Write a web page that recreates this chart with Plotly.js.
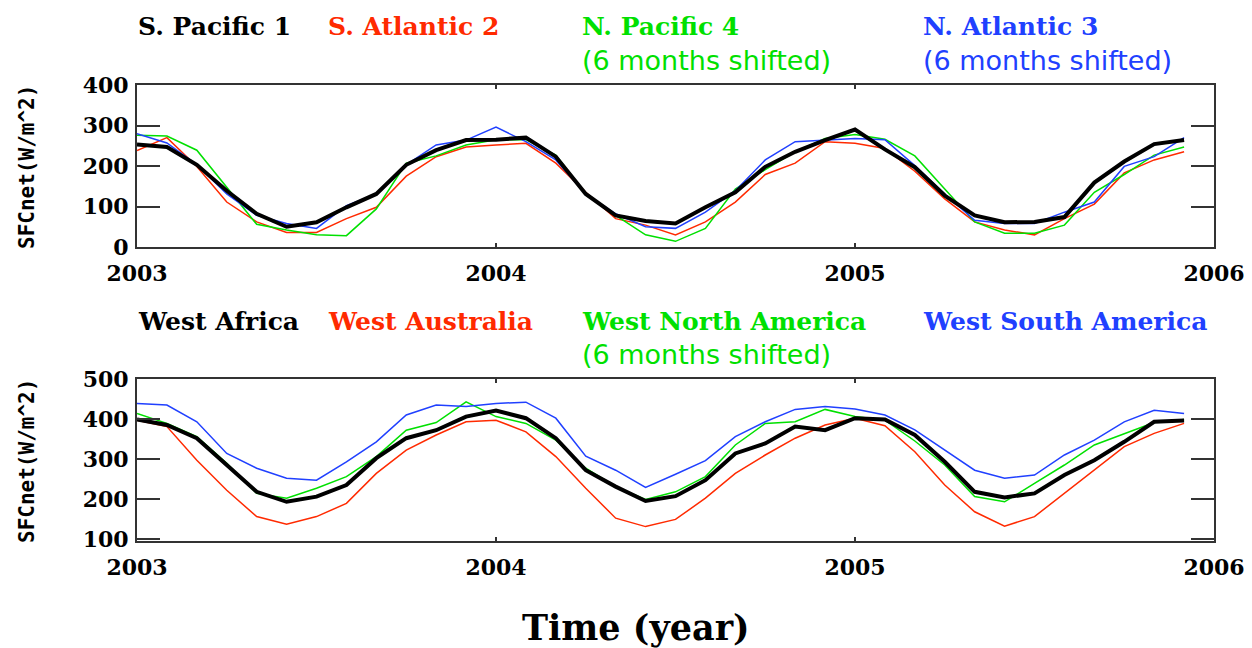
<!DOCTYPE html>
<html>
<head>
<meta charset="utf-8">
<script src="https://cdn.plot.ly/plotly-3.0.1.min.js"></script>
<style>html,body{margin:0;padding:0;background:#fff;}#chart{width:1252px;height:648px;}</style>
</head>
<body>
<div id="chart"></div>
<script>
// ---- data (monthly, Jan 2003 .. Dec 2005) ----
const startYear = 2003;
const nMonths = 36;

// Top panel: ocean regions (W/m^2)
const sPacific1 = [253, 247, 203, 139, 82, 50, 61, 98, 131, 203, 239, 264,
                   265, 270, 223, 131, 78, 64, 58, 98, 135, 198, 235, 264,
                   290, 241, 197, 127, 78, 61, 62, 74, 159, 211, 254, 264];
const sAtlantic2 = [238, 270, 199, 111, 62, 36, 36, 70, 98, 175, 223, 247,
                    252, 256, 207, 135, 70, 54, 30, 62, 111, 179, 207, 260,
                    256, 243, 187, 119, 62, 42, 30, 70, 106, 183, 215, 235];
const nPacific4 = [276, 274, 239, 147, 56, 42, 30, 28, 94, 207, 225, 252,
                   265, 265, 227, 131, 78, 30, 14, 46, 143, 191, 235, 268,
                   278, 266, 225, 143, 62, 34, 34, 54, 135, 179, 227, 247];
const nAtlantic3 = [280, 257, 203, 131, 78, 58, 46, 102, 131, 203, 252, 264,
                    296, 260, 215, 131, 82, 50, 46, 86, 139, 215, 260, 264,
                    268, 265, 201, 131, 66, 58, 58, 86, 111, 199, 223, 270];

// Bottom panel: land regions (W/m^2)
const westAfrica = [399, 385, 352, 285, 218, 193, 206, 235, 302, 352, 372, 406,
                    421, 402, 352, 272, 231, 195, 207, 247, 314, 339, 381, 372,
                    402, 399, 360, 293, 218, 204, 214, 260, 297, 343, 393, 396];
const westAustralia = [397, 381, 297, 222, 156, 137, 156, 189, 264, 322, 360, 393,
                       397, 368, 306, 227, 152, 131, 149, 202, 264, 310, 352, 385,
                       402, 383, 318, 235, 168, 132, 156, 214, 272, 331, 364, 389];
const westNorthAmerica = [414, 389, 356, 289, 214, 202, 227, 256, 306, 372, 391, 443,
                          406, 389, 347, 277, 231, 199, 218, 256, 335, 389, 393, 424,
                          406, 397, 345, 285, 206, 193, 239, 285, 335, 364, 391, 399];
const westSouthAmerica = [439, 435, 393, 314, 277, 252, 247, 293, 343, 410, 435, 431,
                          439, 442, 402, 307, 272, 229, 262, 296, 356, 393, 424, 431,
                          425, 410, 373, 322, 272, 252, 260, 310, 347, 393, 422, 414];

const topNames = ["S. Pacific 1", "S. Atlantic 2", "N. Pacific 4", "N. Atlantic 3"];
const botNames = ["West Africa", "West Australia", "West North America", "West South America"];
const shiftNote = "(6 months shifted)";
const yearTicks = [2003, 2004, 2005, 2006];
const topYTicks = [0, 100, 200, 300, 400];
const botYTicks = [100, 200, 300, 400, 500];

// ---- styling ----
const W = 1252, H = 648;
const colors = ["#000000", "#ff2a00", "#00e000", "#2040ff"];
const widths = [4, 1.5, 1.5, 1.5];

const time = [];
for (let i = 0; i < nMonths; i++) time.push(startYear + i / 12);

const topSeries = [sPacific1, sAtlantic2, nPacific4, nAtlantic3];
const botSeries = [westAfrica, westAustralia, westNorthAmerica, westSouthAmerica];

const traces = [];
[1, 2, 3, 0].forEach(k => {
  traces.push({x: time, y: topSeries[k], type: 'scatter', mode: 'lines', name: topNames[k],
    line: {color: colors[k], width: widths[k]}, xaxis: 'x', yaxis: 'y', hoverinfo: 'skip'});
});
[1, 2, 3, 0].forEach(k => {
  traces.push({x: time, y: botSeries[k], type: 'scatter', mode: 'lines', name: botNames[k],
    line: {color: colors[k], width: widths[k]}, xaxis: 'x2', yaxis: 'y2', hoverinfo: 'skip'});
});

const tickFont = {family: 'DejaVu Serif', size: 22, color: '#000', weight: 'bold'};
const xDom = [137 / W, 1214 / W];
function xAx(anchor) {
  return {domain: xDom, anchor: anchor, range: [2003, 2006], tickvals: yearTicks,
    ticktext: yearTicks.map(String), ticks: 'inside', ticklen: 4, tickwidth: 2, tickcolor: '#333',
    mirror: 'ticks', showline: true, linecolor: '#333', linewidth: 2, showgrid: false,
    zeroline: false, tickfont: tickFont, ticklabelstandoff: 6};
}
function yAx(anchor, dom, range, vals) {
  return {domain: dom, anchor: anchor, range: range, tickvals: vals, ticktext: vals.map(String),
    ticks: 'inside', ticklen: 23, tickwidth: 2, tickcolor: '#333', mirror: 'ticks',
    showline: true, linecolor: '#333', linewidth: 2, showgrid: false, zeroline: false,
    tickfont: tickFont, ticklabelstandoff: 2};
}

const ann = [];
function txt(text, px, py, color, font, size, weight) {
  ann.push({text: text, xref: 'paper', yref: 'paper', x: px / W, y: 1 - py / H,
    xanchor: 'left', yanchor: 'middle', showarrow: false,
    font: {family: font, size: size, color: color, weight: weight || 'normal'}});
}
const legX = [136, 326, 580, 921];
topNames.forEach((n, k) => txt(n, legX[k], 27, colors[k], 'DejaVu Serif', 25, 'bold'));
txt(shiftNote, legX[2], 61, colors[2], 'DejaVu Sans', 27);
txt(shiftNote, legX[3], 61, colors[3], 'DejaVu Sans', 27);
botNames.forEach((n, k) => txt(n, legX[k], 321, colors[k], 'DejaVu Serif', 25, 'bold'));
txt(shiftNote, legX[2], 354, colors[2], 'DejaVu Sans', 27);

// axis titles
[167, 461].forEach(cy => {
  ann.push({text: 'SFCnet(W/m^2)', xref: 'paper', yref: 'paper', x: 27 / W, y: 1 - cy / H,
    xanchor: 'center', yanchor: 'middle', textangle: -90, showarrow: false,
    font: {family: 'DejaVu Sans Mono', size: 21, color: '#000', weight: 'bold'}});
});
ann.push({text: 'Time (year)', xref: 'paper', yref: 'paper', x: 636 / W, y: 1 - 627 / H,
  xanchor: 'center', yanchor: 'middle', showarrow: false,
  font: {family: 'DejaVu Serif', size: 35, color: '#000', weight: 'bold'}});

const layout = {
  width: W, height: H, autosize: false,
  margin: {l: 0, r: 0, t: 0, b: 0},
  paper_bgcolor: '#fff', plot_bgcolor: '#fff',
  showlegend: false,
  xaxis: xAx('y'),
  yaxis: yAx('x', [1 - 247 / H, 1 - 85 / H], [0, 400], topYTicks),
  xaxis2: xAx('y2'),
  yaxis2: yAx('x2', [1 - 541 / H, 1 - 379 / H], [95, 500], botYTicks),
  annotations: ann
};

Plotly.newPlot('chart', traces, layout, {staticPlot: true, displayModeBar: false});
</script>
</body>
</html>
